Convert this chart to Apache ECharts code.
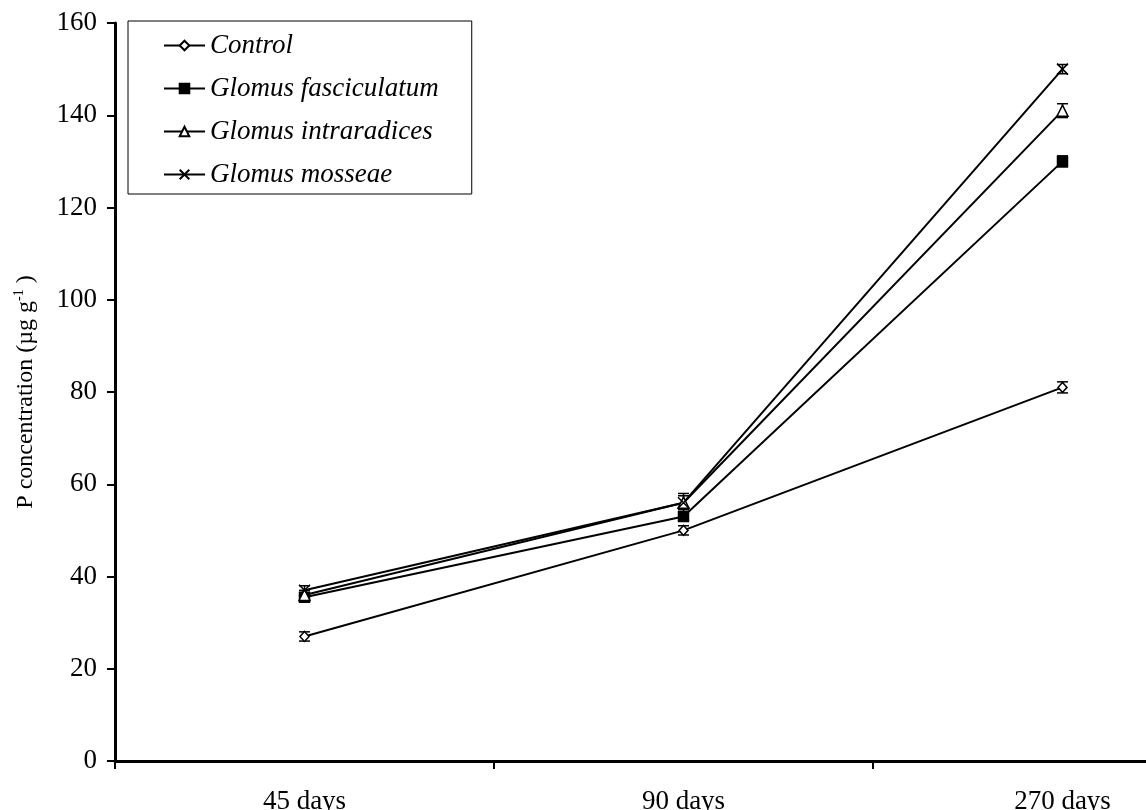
<!DOCTYPE html>
<html>
<head>
<meta charset="utf-8">
<script src="https://cdn.jsdelivr.net/npm/echarts@6/dist/echarts.min.js"></script>
<style>
  html, body { margin: 0; padding: 0; background: #fff; }
  #chart { width: 1146px; height: 810px; }
</style>
</head>
<body>
<div id="chart"></div>
<script>
// data
const days = ['45 days', '90 days', '270 days'];
const seriesNames = ['Control', 'Glomus fasciculatum', 'Glomus intraradices', 'Glomus mosseae'];
const control = [27, 50, 81];
const fasciculatum = [35.5, 53, 130];
const intraradices = [36, 56, 141];
const mosseae = [37, 56, 150];
const controlErr = [1, 1, 1.2];
const fasciculatumErr = [1, 1, 1.2];
const intraradicesErr = [1, 1.5, 1.5];
const mosseaeErr = [1, 2, 1];
const yTicks = [0, 20, 40, 60, 80, 100, 120, 140, 160];

const FONT = '"Liberation Serif", "Times New Roman", serif';
const crossPath = 'path://M0,0L10,10M10,0L0,10';

const values = [control, fasciculatum, intraradices, mosseae];
const errs = [controlErr, fasciculatumErr, intraradicesErr, mosseaeErr];
const symbols = [
  { symbol: 'diamond', size: [9, 10], fill: '#fff' },
  { symbol: 'rect', size: 10, fill: '#000' },
  { symbol: 'triangle', size: 11, fill: '#fff' },
  { symbol: crossPath, size: 11, fill: 'none' }
];

let myChart = echarts.init(document.getElementById('chart'));

// error bars through the axis scales
function errorBar(params, api) {
  const x = api.value(0);
  const v = api.value(1);
  const e = api.value(2);
  const hi = api.coord([x, v + e]);
  const lo = api.coord([x, v - e]);
  const cap = 5.5;
  const style = { stroke: '#000', lineWidth: 1.5 };
  return {
    type: 'group',
    children: [
      { type: 'line', shape: { x1: hi[0], y1: hi[1], x2: lo[0], y2: lo[1] }, style: style },
      { type: 'line', shape: { x1: hi[0] - cap, y1: hi[1], x2: hi[0] + cap, y2: hi[1] }, style: style },
      { type: 'line', shape: { x1: lo[0] - cap, y1: lo[1], x2: lo[0] + cap, y2: lo[1] }, style: style }
    ]
  };
}

let series = [];
seriesNames.forEach(function (name, i) {
  series.push({
    name: name,
    type: 'line',
    data: values[i],
    symbol: symbols[i].symbol,
    symbolSize: symbols[i].size,
    showAllSymbol: true,
    z: 3,
    lineStyle: { color: '#000', width: 2 },
    itemStyle: { color: symbols[i].fill, borderColor: '#000', borderWidth: 1.5 },
    emphasis: { disabled: true }
  });
  series.push({
    type: 'custom',
    renderItem: errorBar,
    z: 2,
    silent: true,
    data: values[i].map(function (v, j) { return [j, v, errs[i][j]]; })
  });
});

let option = {
  animation: false,
  backgroundColor: '#fff',
  textStyle: { fontFamily: FONT, color: '#000' },
  grid: {
    left: 115,
    top: 23,
    bottom: 49,
    width: 1137,
    outerBoundsMode: 'none',
    containLabel: false
  },
  legend: {
    orient: 'vertical',
    left: 128,
    top: 21,
    data: seriesNames,
    itemWidth: 41,
    itemHeight: 12,
    itemGap: 16,
    padding: [11, 33, 6, 35],
    borderColor: '#000',
    borderWidth: 1,
    backgroundColor: '#fff',
    textStyle: { fontFamily: FONT, fontSize: 27, fontStyle: 'italic', color: '#000' }
  },
  xAxis: {
    type: 'category',
    data: days,
    boundaryGap: true,
    axisLine: { lineStyle: { color: '#000', width: 3 } },
    axisTick: { show: true, length: 8, lineStyle: { color: '#000', width: 2 } },
    axisLabel: { fontFamily: FONT, fontSize: 27, color: '#000', margin: 27 },
    splitLine: { show: false }
  },
  yAxis: {
    type: 'value',
    min: yTicks[0],
    max: yTicks[yTicks.length - 1],
    interval: 20,
    name: '{a|P concentration (µg g}{s|-1}{a| )}',
    nameLocation: 'middle',
    nameRotate: 90,
    nameGap: 75,
    nameTextStyle: {
      fontFamily: FONT,
      color: '#000',
      rich: {
        a: { fontFamily: FONT, fontSize: 24, color: '#000', lineHeight: 28 },
        s: { fontFamily: FONT, fontSize: 14, color: '#000', verticalAlign: 'top', lineHeight: 28 }
      }
    },
    axisLine: { show: true, lineStyle: { color: '#000', width: 3 } },
    axisTick: { show: true, length: 8, lineStyle: { color: '#000', width: 2 } },
    axisLabel: { fontFamily: FONT, fontSize: 27, color: '#000', margin: 18 },
    splitLine: { show: false }
  },
  series: series
};

myChart.setOption(option);
</script>
</body>
</html>
